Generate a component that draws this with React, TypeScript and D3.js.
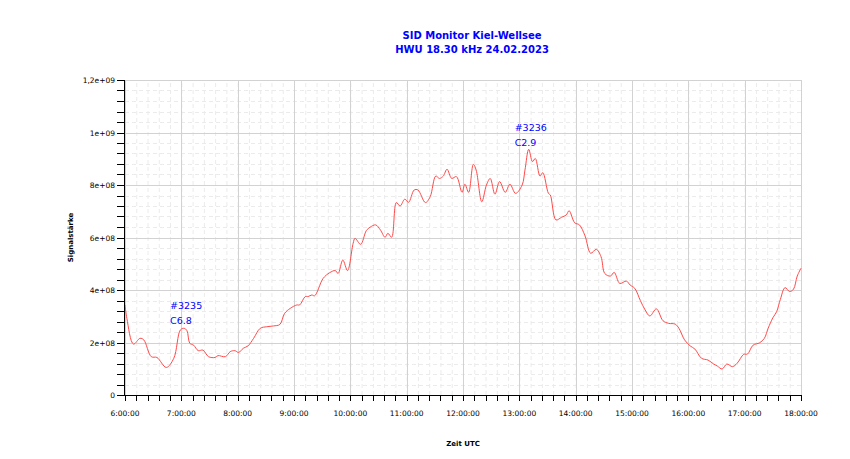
import * as d3 from "d3";

// minutes after 6:00 UTC
const minutes = [
  0, 2, 9, 16, 20, 28, 34, 44, 52, 59,
  63, 66, 69, 73, 78, 83, 89, 96, 99, 107,
  112, 117, 121, 126, 131, 137, 144, 151, 158, 165,
  170, 176, 183, 186, 192, 195, 199, 202, 211, 218,
  224, 227, 232, 237, 243, 245, 251, 257, 261, 267,
  272, 277, 280, 284, 289, 293, 298, 302, 308, 312,
  320, 325, 331, 335, 339, 343, 348, 353, 359, 362,
  366, 371, 374, 380, 385, 389, 394, 399, 405, 410,
  416, 423, 426, 430, 434, 437, 442, 445, 451, 453,
  459, 465, 470, 473, 479, 484, 490, 496, 502, 507,
  511, 517, 521, 527, 534, 538, 543, 549, 554, 559,
  566, 573, 579, 586, 590, 596, 602, 607, 614, 621,
  627, 631, 636, 641, 647, 652, 659, 663, 669, 676,
  681, 685, 690, 694, 698, 703, 708, 712, 716, 720,
];

// signal strength in units of 1e8
const signal = [
  3.43, 2.92, 1.94, 2.16, 2.1, 1.46, 1.43, 1.05, 1.4, 2.48,
  2.54, 2.45, 1.97, 1.9, 1.69, 1.71, 1.46, 1.43, 1.5, 1.46,
  1.65, 1.69, 1.62, 1.78, 1.87, 2.16, 2.54, 2.6, 2.63, 2.69,
  3.11, 3.3, 3.43, 3.43, 3.75, 3.75, 3.81, 3.78, 4.44, 4.66,
  4.74, 4.63, 5.14, 4.74, 5.78, 5.97, 5.74, 6.26, 6.39, 6.48,
  6.29, 6.01, 6.16, 6.01, 7.33, 7.2, 7.46, 7.34, 7.81, 7.81,
  7.33, 7.55, 8.34, 8.25, 8.34, 8.6, 8.25, 8.32, 7.72, 8.03,
  7.72, 8.79, 8.57, 7.36, 8.0, 8.25, 7.65, 8.13, 7.72, 8.03,
  7.68, 8.0, 8.57, 9.36, 8.89, 9.01, 8.34, 8.47, 7.68, 7.62,
  6.67, 6.77, 6.86, 7.02, 6.56, 6.48, 6.06, 5.4, 5.55, 5.27,
  4.63, 4.53, 4.67, 4.25, 4.34, 4.19, 4.06, 3.59, 3.24, 3.01,
  3.28, 2.83, 2.73, 2.7, 2.54, 2.1, 1.87, 1.75, 1.4, 1.33,
  1.18, 1.1, 0.99, 1.18, 1.08, 1.21, 1.55, 1.56, 1.9, 1.99,
  2.16, 2.54, 2.94, 3.17, 3.64, 4.09, 3.94, 4.03, 4.53, 4.83,
];

const hourTicks = [6, 7, 8, 9, 10, 11, 12, 13, 14, 15, 16, 17, 18];
const yTicks = [0, 2, 4, 6, 8, 10, 12];
const yTickLabels = ["0", "2e+08", "4e+08", "6e+08", "8e+08", "1e+09", "1,2e+09"];

const flareIds = ["#3235", "#3236"];
const flareClasses = ["C6.8", "C2.9"];
const flareMinutes = [48, 415];
const flareLevels = [3.28, 10.06];

const W = 850;
const H = 459;
const margin = { top: 80, right: 49, bottom: 64, left: 125 };
const font = "'DejaVu Sans', Verdana, sans-serif";
const blue = "#0000ff";

export default function App() {
  const x = d3
    .scaleLinear()
    .domain([0, 720])
    .range([margin.left, W - margin.right]);
  const y = d3
    .scaleLinear()
    .domain([0, 12])
    .range([H - margin.bottom, margin.top]);

  const minorX = d3.range(0, 721, 12);
  const minorY = d3.range(0, 12.01, 0.4);

  const line = d3
    .line<number>()
    .x((d, i) => x(minutes[i]))
    .y((d) => y(d))
    .curve(d3.curveCatmullRom.alpha(0.5));

  const x0 = x(0);
  const x1 = x(720);
  const y0 = y(0);
  const y1 = y(12);

  return (
    <svg
      width={W}
      height={H}
      style={{ position: "absolute", left: 0, top: 0, background: "#fff" }}
      fontFamily={font}
    >
      <text x={472} y={39} textAnchor="middle" fontSize={10} fontWeight="bold" fill={blue}>
        SID Monitor Kiel-Wellsee
      </text>
      <text x={472} y={53} textAnchor="middle" fontSize={10} fontWeight="bold" fill={blue}>
        HWU 18.30 kHz 24.02.2023
      </text>

      {/* minor grid */}
      {minorX.map((m) => (
        <line key={"mx" + m} x1={x(m) + 0.5} x2={x(m) + 0.5} y1={y0} y2={y1}
          stroke="#ebebeb" strokeDasharray="4,3" />
      ))}
      {minorY.map((v) => (
        <line key={"my" + v} x1={x0} x2={x1} y1={Math.round(y(v)) + 0.5} y2={Math.round(y(v)) + 0.5}
          stroke="#ebebeb" strokeDasharray="4,3" />
      ))}
      {/* major grid */}
      {hourTicks.map((h) => (
        <line key={"gx" + h} x1={Math.round(x((h - 6) * 60)) + 0.5} x2={Math.round(x((h - 6) * 60)) + 0.5}
          y1={y0} y2={y1} stroke="#d2d2d2" />
      ))}
      {yTicks.map((v) => (
        <line key={"gy" + v} x1={x0} x2={x1} y1={Math.round(y(v)) + 0.5} y2={Math.round(y(v)) + 0.5}
          stroke="#d2d2d2" />
      ))}

      <path d={line(signal) || ""} fill="none" stroke="#ff4a4a" strokeWidth={1} />

      {flareIds.map((id, i) => (
        <g key={id} fontSize={9.5} fill={blue}>
          <text x={x(flareMinutes[i])} y={y(flareLevels[i])}>{id}</text>
          <text x={x(flareMinutes[i])} y={y(flareLevels[i]) + 15}>{flareClasses[i]}</text>
        </g>
      ))}

      {/* axes */}
      <line x1={x0 - 0.5} x2={x0 - 0.5} y1={y1} y2={y0 + 1} stroke="#000" />
      <line x1={x0 - 0.5} x2={x1 + 0.5} y1={y0 + 0.5} y2={y0 + 0.5} stroke="#000" />
      {minorX.map((m) => (
        <line key={"tx" + m} x1={Math.round(x(m)) + 0.5} x2={Math.round(x(m)) + 0.5}
          y1={y0} y2={y0 + 6} stroke="#000" />
      ))}
      {minorY.map((v) => (
        <line key={"ty" + v} x1={x0 - 8} x2={x0} y1={Math.round(y(v)) + 0.5} y2={Math.round(y(v)) + 0.5}
          stroke="#000" />
      ))}
      {hourTicks.map((h) => (
        <text key={"lx" + h} x={x((h - 6) * 60)} y={y0 + 21} textAnchor="middle" fontSize={7.5} fill="#000">
          {`${h}:00:00`}
        </text>
      ))}
      {yTicks.map((v, i) => (
        <text key={"ly" + v} x={x0 - 10} y={y(v) + 3} textAnchor="end" fontSize={7.5} fill="#000">
          {yTickLabels[i]}
        </text>
      ))}

      <text x={(x0 + x1) / 2} y={446} textAnchor="middle" fontSize={7} fontWeight="bold">
        Zeit UTC
      </text>
      <text transform={`translate(73, ${(y0 + y1) / 2}) rotate(-90)`} textAnchor="middle"
        fontSize={7} fontWeight="bold">
        Signalstärke
      </text>
    </svg>
  );
}
